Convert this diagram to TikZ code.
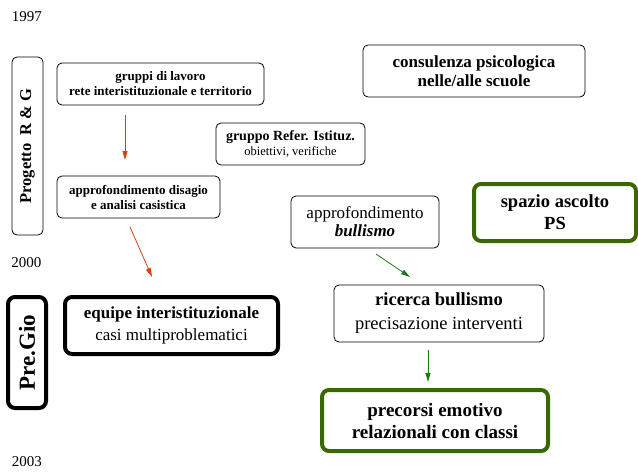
\documentclass[tikz,border=0pt]{standalone}
\usepackage{fontspec}
\setmainfont{Liberation Serif}
\usetikzlibrary{arrows.meta,calc}
\definecolor{boxgreen}{RGB}{58,104,0}
\definecolor{arrgreen}{RGB}{30,120,20}
\definecolor{arrred}{RGB}{216,64,16}
\begin{document}
\begin{tikzpicture}[x=1pt,y=-1pt,
  thinbox/.style={draw=black,line width=0.8pt,rounded corners=5pt,align=center,inner sep=0pt},
  thickbox/.style={draw=black,line width=4pt,rounded corners=7pt,align=center,inner sep=0pt},
  greenbox/.style={draw=boxgreen,line width=4pt,rounded corners=7pt,align=center,inner sep=0pt},
  yearlbl/.style={font=\fontsize{15}{17}\selectfont,inner sep=0pt},
  redarr/.style={draw=arrred,line width=0.8pt,-{Triangle[length=9pt,width=5pt]}},
  greenarr/.style={draw=arrgreen,line width=0.8pt,-{Triangle[length=9pt,width=5pt]}}]
\useasboundingbox (0,0) rectangle (638,474);
\node[yearlbl] (y1997) at (27,17) {1997};
\node[yearlbl] (y2000) at (26.5,263) {2000};
\node[yearlbl] (y2003) at (27,462) {2003};

\node[thinbox,minimum width=31pt,minimum height=178pt] (prog) at (27.5,146) {};
\node[rotate=90,font=\bfseries\fontsize{16.5}{18}\selectfont] (progt) at (prog.center) {Progetto\ \ R \& G};

\node[thinbox,minimum width=207pt,minimum height=42pt,font=\bfseries\fontsize{13}{15}\selectfont] (grup) at (160.5,84) {gruppi di lavoro\\rete interistituzionale e territorio};
\node[thinbox,minimum width=163pt,minimum height=42pt,font=\bfseries\fontsize{13}{15}\selectfont] (disag) at (138.5,197) {approfondimento disagio\\e analisi casistica};
\node[thinbox,minimum width=149pt,minimum height=42pt,font=\fontsize{12.5}{15}\selectfont] (refer) at (290.5,144) {\fontsize{14}{15}\selectfont\textbf{gruppo Refer. Istituz.}\\obiettivi, verifiche};
\node[thinbox,minimum width=222pt,minimum height=52pt,font=\bfseries\fontsize{17}{19}\selectfont] (consu) at (474,71) {consulenza psicologica\\nelle/alle scuole};
\node[thinbox,minimum width=148pt,minimum height=52pt,font=\fontsize{17}{18}\selectfont] (appbul) at (365,222) {approfondimento\\\textbf{\textit{bullismo}}};
\node[greenbox,minimum width=162pt,minimum height=57pt,font=\bfseries\fontsize{18.5}{22}\selectfont] (spazio) at (555,212.5) {spazio ascolto\\PS};
\node[thinbox,minimum width=210pt,minimum height=57pt,font=\fontsize{18.5}{24}\selectfont] (ricer) at (439,313.5) {\textbf{ricerca bullismo}\\precisazione interventi};
\node[greenbox,minimum width=226pt,minimum height=61pt,font=\bfseries\fontsize{19}{22}\selectfont] (precor) at (435,420.5) {precorsi emotivo\\relazionali con classi};
\node[thickbox,minimum width=213pt,minimum height=57pt,font=\fontsize{17}{22}\selectfont] (equipe) at (171.5,325.5) {\textbf{equipe interistituzionale}\\casi multiproblematici};
\node[thickbox,minimum width=38pt,minimum height=111pt] (pregio) at (27,352.5) {};
\node[rotate=90,font=\bfseries\fontsize{23}{26}\selectfont] (pregiot) at (pregio.center) {Pre.Gio};

\coordinate (a1s) at (125,115);
\coordinate (a1e) at (125,160);
\coordinate (a2s) at (130,227);
\coordinate (a2e) at (152,277);
\coordinate (a3s) at (376,254);
\coordinate (a3e) at (410,277);
\coordinate (a4s) at (428,350);
\coordinate (a4e) at (428,382);
\draw[redarr] (a1s) -- (a1e);
\draw[redarr] (a2s) -- (a2e);
\draw[greenarr] (a3s) -- (a3e);
\draw[greenarr] (a4s) -- (a4e);
\end{tikzpicture}
\end{document}
